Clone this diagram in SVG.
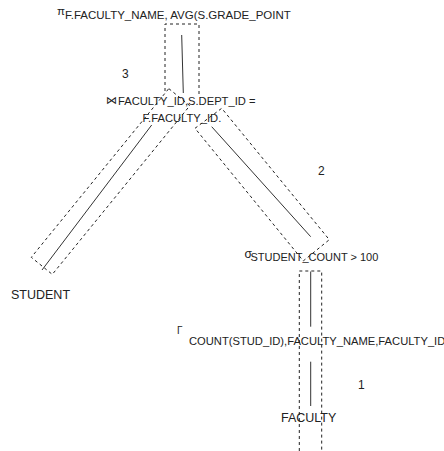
<svg xmlns="http://www.w3.org/2000/svg" width="444" height="451" viewBox="0 0 444 451">
  <style>
    .lbl { font-family: "Liberation Sans", "DejaVu Sans", sans-serif; fill: #222; }
    .sub { font-size: 11px; }
    .num { font-size: 12px; }
    .rel { font-size: 12.5px; }
    .box { fill: none; stroke: #222; stroke-width: 1; stroke-dasharray: 3 3; }
    .edge { fill: none; stroke: #333; stroke-width: 1; }
  </style>
  <rect width="444" height="451" fill="#fff"/>

  <!-- dashed operator boxes and tree edges -->
  <g id="connectors">
    <polyline class="box" points="165,91 165,24 199,24 199,97"/>
    <line class="edge" x1="181.7" y1="35" x2="183.3" y2="93"/>

    <polygon class="box" points="168.8,88.6 189.8,105.7 52.3,274.4 31.3,257.3"/>
    <line class="edge" x1="151.7" y1="125" x2="42" y2="270"/>

    <polygon class="box" points="195,128.3 221.7,108.3 329.3,239.7 303.3,260.9"/>
    <line class="edge" x1="211.7" y1="126.7" x2="310.7" y2="236.7"/>

    <polyline class="box" points="299.3,451 299.3,271 321.7,271 321.7,451"/>
    <line class="edge" x1="310.7" y1="271.5" x2="310.7" y2="326.7"/>
    <line class="edge" x1="310.7" y1="361.7" x2="310.7" y2="406"/>
  </g>

  <g id="project">
    <text class="lbl" x="57" y="15" font-size="11.5">π</text>
    <text class="lbl" x="65" y="19" font-size="11.5">F.FACULTY_NAME, AVG(S.GRADE_POINT</text>
  </g>

  <g id="join">
    <text class="lbl" x="106" y="104" font-size="11">⋈</text>
    <text class="lbl" x="118" y="105" font-size="11.2">FACULTY_ID,S.DEPT_ID =</text>
    <text class="lbl" x="142.5" y="122" font-size="11.2">F.FACULTY_ID.</text>
  </g>

  <g id="select">
    <text class="lbl" x="244.5" y="258" font-size="12">σ</text>
    <text class="lbl sub" x="250.5" y="261">STUDENT_COUNT &gt; 100</text>
  </g>

  <g id="group">
    <text class="lbl" x="177" y="333.5" font-size="10">Γ</text>
    <text class="lbl" x="189" y="345" font-size="11.2">COUNT(STUD_ID),FACULTY_NAME,FACULTY_ID</text>
  </g>

  <g id="student">
    <text class="lbl rel" x="11" y="299">STUDENT</text>
  </g>

  <g id="faculty">
    <text class="lbl rel" x="281" y="422">FACULTY</text>
  </g>

  <g id="steps">
    <text class="lbl num" x="122" y="78">3</text>
    <text class="lbl num" x="318" y="175">2</text>
    <text class="lbl num" x="358" y="389">1</text>
  </g>
</svg>
